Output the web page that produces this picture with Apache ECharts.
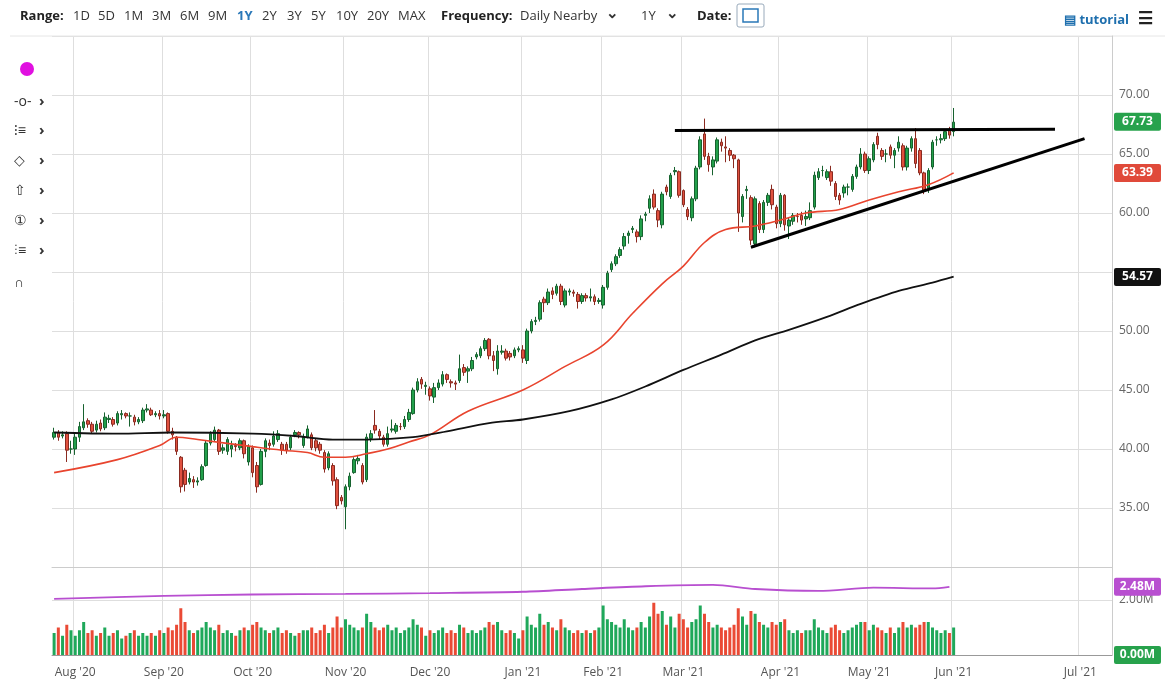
<!DOCTYPE html>
<html>
<head>
<meta charset="utf-8">
<script src="https://cdn.jsdelivr.net/npm/echarts@6/dist/echarts.min.js"></script>
<style>
  html, body { margin: 0; padding: 0; background: #fff; }
  #chart { width: 1172px; height: 689px; }
</style>
</head>
<body>
<div id="chart"></div>
<script>
// 每日K線 [open, close, low, high]
const candles = [
  // Jul '20
  [41.0,41.4,40.8,41.8],[41.4,41.0,40.7,41.6],[41.1,41.2,40.9,41.5],[41.3,39.9,38.9,41.5],[40.0,40.0,39.6,40.7],
  // Aug
  [40.0,41.0,39.5,41.3],[41.0,41.9,40.6,42.3],[41.8,42.3,41.6,43.8],[42.4,42.1,41.8,42.6],[42.1,41.5,41.3,42.3],
  [41.6,42.1,41.4,42.4],[42.2,41.7,41.5,42.5],[41.8,42.7,41.6,43.1],[42.5,42.6,42.2,42.9],[42.5,42.1,41.9,42.7],
  [42.2,43.0,42.0,43.2],[42.9,43.0,42.5,43.3],[43.0,42.8,42.6,43.1],[42.8,42.8,41.9,43.1],[42.7,42.3,42.0,42.9],
  [42.3,42.5,42.1,42.7],[42.4,43.3,42.2,43.5],[43.3,43.4,43.1,43.8],[43.3,42.9,42.8,43.5],[42.9,43.0,42.7,43.2],
  [43.0,42.8,42.5,43.3],
  // Sep
  [42.8,42.9,42.6,43.3],[43.0,41.5,41.3,43.1],[41.5,41.2,40.8,41.8],[41.0,39.8,39.5,41.1],[39.3,36.8,36.3,39.4],
  [38.2,37.0,36.4,38.4],[37.2,37.5,37.0,38.0],[37.4,37.2,36.7,37.7],[37.2,37.3,36.9,37.6],[37.4,38.5,37.3,38.7],
  [38.6,40.5,38.5,40.7],[40.5,41.3,40.3,41.5],[40.8,41.6,40.6,41.9],[41.6,39.8,39.5,41.7],[39.9,40.1,39.6,40.4],
  [39.8,40.8,39.5,41.0],[40.0,40.3,39.3,40.7],[40.3,40.2,39.8,40.5],[40.1,40.7,39.9,40.9],[40.7,39.6,39.2,40.8],
  [38.9,40.2,38.6,40.4],[40.1,38.0,37.6,40.3],
  // Oct
  [38.6,36.8,36.3,38.9],[37.0,39.8,36.9,40.0],[39.8,40.7,39.3,40.9],[40.5,40.3,39.9,40.8],[40.4,41.1,40.2,41.5],
  [40.8,41.3,40.6,41.6],[40.4,39.9,39.5,40.6],[40.4,39.9,39.6,40.6],[40.1,41.0,39.9,41.2],[41.2,41.4,41.0,41.6],
  [41.4,41.2,40.9,41.5],[40.3,41.0,40.1,41.3],[41.0,41.7,40.9,42.0],[41.2,40.1,39.9,41.4],[40.7,40.1,39.8,40.9],
  [40.4,39.9,39.6,40.6],[39.7,38.3,38.0,39.9],[38.4,39.6,38.2,39.8],[38.6,37.3,36.9,38.8],[37.4,35.2,34.9,37.6],
  [35.9,35.6,35.3,36.1],[35.1,36.8,33.2,37.0],
  // Nov
  [36.8,37.7,36.5,38.0],[38.0,39.1,37.9,39.3],[39.0,39.2,38.7,39.5],[38.6,37.2,37.0,38.8],[37.4,41.0,37.2,41.3],
  [40.9,41.3,40.6,41.6],[42.0,41.6,41.3,43.3],[41.5,41.1,40.8,41.7],[41.0,40.4,40.2,41.2],[40.4,41.3,40.2,41.9],
  [41.6,41.7,41.4,42.5],[41.5,42.0,41.3,42.2],[41.9,41.9,41.6,42.2],[41.9,42.5,41.7,42.8],[42.5,43.1,42.3,43.4],
  [43.0,45.0,42.9,45.2],[45.0,45.7,44.8,46.0],[45.9,45.5,45.1,46.1],[45.3,45.4,44.6,45.7],[45.1,44.5,44.1,45.3],
  [44.4,45.2,43.9,45.6],
  // Dec
  [45.2,45.6,45.0,45.9],[45.5,46.3,45.3,46.6],[46.3,45.9,45.6,46.4],[45.7,45.6,45.2,45.9],[45.6,45.5,45.0,45.8],
  [45.8,46.8,45.6,48.0],[46.9,46.5,46.2,47.2],[46.6,46.8,45.6,47.0],[46.8,47.5,46.6,47.8],[47.8,48.0,47.6,48.2],
  [47.9,48.5,47.7,48.7],[48.5,49.2,48.3,49.4],[49.3,47.9,47.6,49.4],[47.9,47.5,46.6,48.3],[46.8,48.3,46.3,48.8],
  [48.2,48.3,48.0,48.8],[48.3,47.7,47.5,48.5],[48.1,47.8,47.5,48.3],[47.9,48.4,47.7,48.6],[48.4,48.5,48.2,48.7],
  [48.4,47.7,47.3,48.8],[47.5,50.0,47.2,50.2],[50.0,50.8,49.8,51.0],
  // Jan '21
  [50.8,50.9,50.5,51.2],[51.0,52.4,50.8,52.6],[52.7,52.4,51.6,52.9],[52.4,53.3,52.2,53.6],[53.4,53.1,52.7,53.7],
  [53.2,53.8,53.0,54.0],[53.8,52.5,52.2,54.0],[52.2,53.4,52.0,53.6],[53.3,53.4,53.0,53.6],[53.3,53.2,52.9,53.5],
  [53.1,52.5,51.9,53.3],[52.5,53.0,52.3,53.2],[53.0,52.8,52.5,53.2],[52.8,52.9,52.5,53.6],[52.9,52.5,52.2,53.1],
  [52.5,52.6,52.3,52.8],[52.2,53.7,51.9,53.9],[53.7,54.9,53.5,55.1],
  // Feb - Jun '21
  [55.2,55.7,55.0,55.9],[55.7,56.3,55.5,56.5],[56.4,56.9,56.2,57.1],[57.2,58.0,56.9,58.3],[58.1,58.3,57.4,58.5],
  [58.6,58.7,58.3,58.9],[58.4,58.0,57.5,58.6],[58.0,59.5,57.7,59.8],[59.8,59.9,59.3,60.1],[60.4,61.2,60.0,61.5],
  [61.6,60.5,60.3,62.0],[60.2,59.4,58.8,60.4],[59.0,61.6,58.7,61.8],[62.2,61.8,61.5,62.4],[61.4,63.2,61.2,63.4],
  [63.5,63.6,63.2,63.9],[63.5,61.5,61.3,63.6],[61.9,60.7,60.5,62.0],[60.3,59.7,59.4,60.5],[59.6,61.2,59.3,61.4],
  [61.2,63.8,61.0,64.0],[63.9,66.2,63.7,66.5],[66.7,64.8,64.5,68.0],[64.8,64.1,63.5,65.1],[63.9,64.5,63.2,64.8],
  [64.4,66.2,64.2,66.4],[66.0,65.7,65.2,66.3],[65.6,65.5,64.3,66.5],[65.3,64.9,64.4,65.5],[64.9,64.6,63.8,65.0],
  [64.5,60.0,58.4,64.6],[59.7,61.4,59.2,61.6],[61.9,62.0,61.2,62.3],[61.3,57.7,57.3,61.5],[57.4,61.2,57.1,61.4],
  [60.8,58.6,58.3,61.0],[58.6,60.9,58.3,61.1],[60.9,61.5,60.6,61.7],[62.0,60.7,60.3,62.4],[60.5,59.1,58.7,60.7],
  [59.1,61.5,58.8,61.7],[61.5,59.0,58.5,61.6],[58.9,59.4,57.8,59.6],[59.3,59.8,59.0,60.0],[59.7,59.7,59.2,60.0],
  [59.8,59.4,59.0,60.1],[59.5,59.7,58.9,60.2],[59.6,60.2,59.4,60.9],[60.5,63.2,60.3,63.5],[63.0,63.5,62.8,63.8],
  [63.6,63.6,63.1,64.0],[63.0,63.5,62.8,63.7],[63.5,62.7,62.3,64.0],[62.5,61.4,61.1,62.7],[61.5,61.1,60.7,61.7],
  [61.7,62.2,61.3,62.4],[62.2,62.2,61.5,62.5],[62.0,63.1,61.8,63.3],[63.1,63.9,62.9,64.1],[63.9,65.0,63.7,65.5],
  [65.0,63.6,63.4,65.2],[63.6,64.6,63.3,64.8],[64.5,65.8,64.3,66.0],[66.5,65.8,65.4,66.8],[65.3,64.8,64.5,65.5],
  [65.0,65.0,64.3,65.4],[65.6,64.9,64.6,65.8],[64.9,65.3,63.8,65.5],[65.5,66.0,65.2,66.5],[65.7,63.9,63.6,65.9],
  [63.9,65.5,63.6,65.7],[65.5,66.3,65.2,66.5],[66.3,64.2,63.8,67.2],[65.3,63.4,63.2,65.5],[63.4,61.9,61.6,63.5],
  [62.1,63.6,61.7,63.8],[63.9,66.0,63.7,66.2],[66.2,66.2,65.7,66.5],[66.2,66.3,65.9,66.7],[66.3,66.9,66.1,67.1],
  [67.0,66.6,66.3,67.3],[66.9,67.7,66.5,68.9]
];

// 成交量 (百萬)
const volumes = [
  0.8,1.0,0.7,1.1,0.9,
  0.7,0.9,1.2,0.8,0.9,0.7,0.8,1.0,0.7,0.8,0.9,0.6,0.7,0.8,0.9,0.7,0.8,0.7,0.8,0.7,0.9,
  0.8,1.0,0.9,1.1,1.7,1.2,0.9,0.8,0.9,1.0,1.2,1.0,0.9,1.1,0.8,0.9,0.8,0.7,0.9,1.0,0.9,1.1,
  1.2,1.0,0.9,0.8,0.9,1.0,0.8,0.9,0.8,0.7,0.8,0.9,0.9,1.0,0.8,0.9,1.1,0.8,1.0,1.4,1.0,1.3,
  1.1,1.0,0.9,1.0,1.5,1.2,1.0,0.9,1.0,1.1,0.9,1.0,0.8,0.9,1.0,1.3,1.1,1.0,0.7,0.9,0.8,
  0.9,1.0,0.8,0.9,0.8,1.1,1.0,0.8,0.9,0.8,0.9,1.0,1.2,1.1,1.2,0.9,0.8,0.9,0.8,0.6,0.9,1.4,1.1,
  1.0,1.5,1.1,1.2,1.0,0.9,1.3,1.0,0.9,0.8,0.9,0.8,0.9,0.8,0.9,1.0,1.8,1.3,
  1.2,1.1,1.0,1.3,1.0,0.9,1.0,1.2,1.0,1.4,1.9,1.5,1.6,1.1,1.4,1.0,1.5,1.3,1.0,1.2,
  1.3,1.8,1.5,1.2,1.0,1.1,1.0,0.9,1.0,1.1,1.7,1.4,1.1,1.6,1.5,1.2,1.1,1.0,1.2,1.1,
  1.2,1.3,0.9,0.8,0.9,0.8,0.9,0.9,1.3,1.0,0.9,0.8,1.0,1.1,0.9,0.8,0.9,1.0,1.1,1.2,
  1.2,0.9,1.1,1.0,0.9,0.8,1.0,0.8,1.0,1.2,1.0,1.1,1.0,1.1,1.2,1.2,1.0,0.9,0.8,0.9,
  0.8,1.0
];

// 50日均線 (紅)
const ma50 = [
  ['2020-07-27',38.0],['2020-08-17',39.1],['2020-08-31',40.3],['2020-09-04',41.0],['2020-09-14',40.8],
  ['2020-10-01',40.2],['2020-10-12',39.9],['2020-10-20',39.7],['2020-10-26',39.3],['2020-11-02',39.3],
  ['2020-11-09',39.6],['2020-11-16',40.0],['2020-11-23',40.6],['2020-12-01',41.2],['2020-12-14',43.2],
  ['2021-01-04',45.0],['2021-01-19',47.0],['2021-02-01',48.8],['2021-02-10',51.5],['2021-02-22',54.0],
  ['2021-03-01',55.5],['2021-03-08',57.5],['2021-03-15',58.6],['2021-03-24',58.9],['2021-04-01',59.4],
  ['2021-04-12',60.0],['2021-04-22',60.3],['2021-05-03',61.1],['2021-05-12',61.8],['2021-05-21',62.4],
  ['2021-06-01',63.4]
];
// 200日均線 (黑)
const ma200 = [
  ['2020-07-27',41.4],['2020-08-17',41.3],['2020-09-03',41.4],['2020-10-01',41.3],['2020-10-15',41.1],
  ['2020-10-28',40.8],['2020-11-09',40.8],['2020-11-24',41.0],['2020-12-07',41.5],['2020-12-21',42.2],
  ['2021-01-04',42.5],['2021-01-20',43.2],['2021-02-03',44.2],['2021-02-16',45.3],['2021-03-01',46.7],
  ['2021-03-12',48.0],['2021-03-24',49.2],['2021-04-06',50.1],['2021-04-19',51.2],['2021-04-29',52.3],
  ['2021-05-12',53.4],['2021-05-24',54.1],['2021-06-01',54.6]
];
// 成交量均線 (紫)
const volMa = [
  ['2020-07-27',2.04],['2020-09-01',2.15],['2020-10-01',2.2],['2020-11-02',2.22],['2020-12-01',2.25],
  ['2021-01-04',2.3],['2021-01-25',2.4],['2021-02-16',2.5],['2021-03-10',2.55],['2021-03-24',2.4],
  ['2021-04-15',2.33],['2021-05-04',2.45],['2021-05-24',2.42],['2021-05-28',2.48]
];
// 趨勢線
const resistLine = [['2021-02-25',67.0],['2021-06-25',67.1]];
const supportLine = [['2021-03-23',57.1],['2021-07-02',66.3]];

const holidays = ['2020-09-07','2020-11-26','2020-12-25','2021-01-01','2021-01-18','2021-02-15','2021-04-02','2021-05-31'];
// 55.00 被 54.57 標籤蓋住
const priceTicks = [35, 40, 45, 50, 60, 65, 70];
const monthNames = ['Jan','Feb','Mar','Apr','May','Jun','Jul','Aug','Sep','Oct','Nov','Dec'];

// 日期: 交易日到 6/1，之後用日曆日
const fmt = d => d.toISOString().slice(0, 10);
const dates = [];
for (let d = new Date(Date.UTC(2020, 6, 27)); d <= new Date(Date.UTC(2021, 6, 8)); d.setUTCDate(d.getUTCDate() + 1)) {
  const s = fmt(d), wd = d.getUTCDay();
  if (s <= '2021-06-01') {
    if (wd === 0 || wd === 6 || holidays.includes(s)) continue;
  }
  dates.push(s);
}
const isMonthStart = i => i > 0 && dates[i].slice(0, 7) !== dates[i - 1].slice(0, 7);

const UP = '#22a04b', UP_B = '#17622f', DN = '#e0513f', DN_B = '#8a2a20';
const volData = volumes.map((v, i) => ({
  value: v,
  itemStyle: { color: candles[i] && candles[i][1] >= candles[i][0] ? '#1fa85a' : '#ea4a35' }
}));

const chart = echarts.init(document.getElementById('chart'));
const font = '"Open Sans", "Noto Sans", sans-serif';
const xCommon = {
  type: 'category', data: dates, boundaryGap: true,
  axisTick: { show: false },
  splitLine: { show: true, interval: i => isMonthStart(i), lineStyle: { color: '#dedede' } }
};

chart.setOption({
  animation: false,
  textStyle: { fontFamily: font },
  grid: [
    { left: 52, right: 60, top: 36, height: 531 },
    { left: 52, right: 60, top: 567, height: 88 }
  ],
  xAxis: [
    Object.assign({}, xCommon, { gridIndex: 0, axisLine: { lineStyle: { color: '#ccc' } }, axisLabel: { show: false } }),
    Object.assign({}, xCommon, {
      gridIndex: 1,
      axisLine: { lineStyle: { color: '#999' } },
      axisLabel: {
        interval: i => isMonthStart(i), color: '#555', fontSize: 12, margin: 12,
        formatter: v => monthNames[+v.slice(5, 7) - 1] + " '" + v.slice(2, 4)
      }
    })
  ],
  yAxis: [
    {
      gridIndex: 0, position: 'right', min: 30, max: 75, interval: 5,
      axisLine: { show: true, lineStyle: { color: '#ccc' } }, axisTick: { show: false },
      splitLine: { lineStyle: { color: '#dedede' } },
      axisLabel: { color: '#666', fontSize: 12, margin: 7,
        formatter: v => priceTicks.includes(v) ? v.toFixed(2) : '' }
    },
    {
      gridIndex: 1, position: 'right', min: 0, max: 3.2, interval: 2,
      axisLine: { show: true, lineStyle: { color: '#ccc' } }, axisTick: { show: false },
      splitLine: { lineStyle: { color: '#dedede' } },
      axisLabel: { color: '#666', fontSize: 12, margin: 7, formatter: v => v === 2 ? '2.00M' : '' }
    }
  ],
  series: [
    {
      type: 'candlestick', xAxisIndex: 0, yAxisIndex: 0, data: candles, barWidth: 3,
      itemStyle: { color: UP, color0: DN, borderColor: UP_B, borderColor0: DN_B, borderWidth: 1 }
    },
    { type: 'line', data: ma50, symbol: 'none', smooth: 0.4, lineStyle: { color: '#e8442e', width: 1.6 }, z: 3 },
    { type: 'line', data: ma200, symbol: 'none', smooth: 0.3, lineStyle: { color: '#111', width: 1.8 }, z: 3 },
    { type: 'line', data: resistLine, symbol: 'none', lineStyle: { color: '#000', width: 3 }, z: 4 },
    { type: 'line', data: supportLine, symbol: 'none', lineStyle: { color: '#000', width: 3 }, z: 4 },
    { type: 'bar', xAxisIndex: 1, yAxisIndex: 1, data: volData, barWidth: 3 },
    { type: 'line', xAxisIndex: 1, yAxisIndex: 1, data: volMa, symbol: 'none', smooth: 0.3, lineStyle: { color: '#b84fd0', width: 1.8 } }
  ]
});

// 右側價格標籤
const badges = [
  { v: 67.73, t: '67.73', c: '#27a24c', axis: 0 },
  { v: 63.39, t: '63.39', c: '#e04a3a', axis: 0 },
  { v: 54.57, t: '54.57', c: '#111111', axis: 0 },
  { v: 2.48, t: '2.48M', c: '#b84fd0', axis: 1 },
  { v: 0, t: '0.00M', c: '#27a24c', axis: 1 }
];
const graphics = badges.map(b => {
  const y = chart.convertToPixel({ yAxisIndex: b.axis }, b.v);
  return {
    type: 'group', x: 1114, y: y - 9, z: 100,
    children: [
      { type: 'rect', z: 100, shape: { x: 0, y: 0, width: 47, height: 18, r: 2 }, style: { fill: b.c } },
      { type: 'text', z: 101, x: 23.5, y: 9, style: { text: b.t, fill: '#fff', font: 'bold 12px ' + font, align: 'center', verticalAlign: 'middle' } }
    ]
  };
});

// 上方工具列
const toolbarItems = [
  ['Range:', 20, true, '#222'], ['1D', 73], ['5D', 98], ['1M', 124], ['3M', 152], ['6M', 180], ['9M', 208],
  ['1Y', 237, true, '#2a78b8'], ['2Y', 262], ['3Y', 287], ['5Y', 311], ['10Y', 336], ['20Y', 367], ['MAX', 398],
  ['Frequency:', 441, true, '#222'], ['Daily Nearby', 520], ['1Y', 641], ['Date:', 697, true, '#222']
];
toolbarItems.forEach(([t, x, b, c]) => graphics.push({
  type: 'text', x: x, y: 16, style: { text: t, fill: c || '#333', font: (b ? 'bold ' : '') + '13px ' + font, verticalAlign: 'middle' }
}));
graphics.push(
  { type: 'text', x: 606, y: 14, style: { text: '⌄', fill: '#333', font: 'bold 15px ' + font, verticalAlign: 'middle' } },
  { type: 'text', x: 666, y: 14, style: { text: '⌄', fill: '#333', font: 'bold 15px ' + font, verticalAlign: 'middle' } },
  { type: 'rect', shape: { x: 737, y: 4, width: 27, height: 23, r: 2 }, style: { fill: '#fff', stroke: '#9ab' } },
  { type: 'rect', shape: { x: 743, y: 9, width: 15, height: 13 }, style: { fill: '#fff', stroke: '#2a78b8', lineWidth: 1.5 } },
  { type: 'text', x: 1064, y: 20, style: { text: '▤ tutorial', fill: '#1e6fae', font: 'bold 13px ' + font, verticalAlign: 'middle' } },
  { type: 'text', x: 1138, y: 19, style: { text: '☰', fill: '#222', font: 'bold 17px ' + font, verticalAlign: 'middle' } },
  { type: 'line', shape: { x1: 10, y1: 36, x2: 1165, y2: 36 }, style: { stroke: '#e6e6e6' } },
  { type: 'circle', shape: { cx: 27, cy: 69, r: 7 }, style: { fill: '#e010e0' } }
);
// 左側工具圖示
const icons = ['-o-', '⁝≡', '◇', '⇧', '①', '⫶≡', '∩'];
const iconY = [102, 131, 161, 191, 221, 251, 283];
icons.forEach((t, i) => {
  graphics.push({ type: 'text', x: 14, y: iconY[i], style: { text: t, fill: '#333', font: '14px ' + font, verticalAlign: 'middle' } });
  if (i < 6) graphics.push({ type: 'text', x: 39, y: iconY[i], style: { text: '›', fill: '#333', font: 'bold 15px ' + font, verticalAlign: 'middle' } });
});
chart.setOption({ graphic: graphics });
</script>
</body>
</html>
